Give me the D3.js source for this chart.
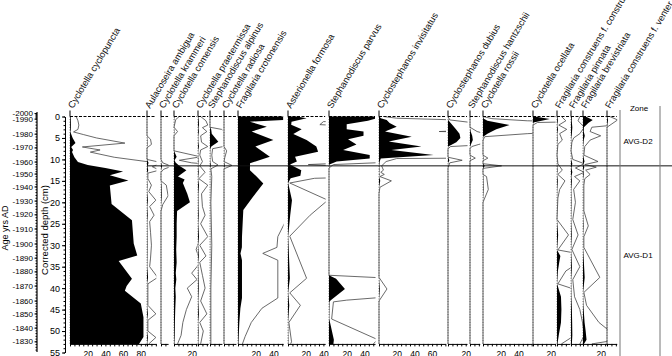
<!DOCTYPE html>
<html lang="en">
<head>
<meta charset="UTF-8">
<title>Diatom stratigraphy</title>
<script src="https://cdnjs.cloudflare.com/ajax/libs/d3/7.8.5/d3.min.js"></script>
<style>
    body { margin: 0; background: #fff; }
    svg { display: block; font-family: "Liberation Sans", Arial, sans-serif; }
</style>
</head>
<body>
<script>

var w = 672, h = 356;

// taxa, in plotting order
var taxa = ["Cyclotella cyclopuncta", "Aulacoseira ambigua", "Cyclotella krammeri", "Cyclotella comensis",
    "Cyclotella praetermissa", "Stephanodiscus alpinus", "Cyclotella radiosa", "Fragilaria crotonensis",
    "Asterionella formosa", "Stephanodiscus parvus", "Cyclostephanos invisitatus", "Cyclostephanos dubius",
    "Stephanodiscus hantzschii", "Cyclotella rossii", "Cyclotella ocellata", "Fragilaria construens f. construens",
    "Fragilaria pinnata", "Fragilaria brevistriata", "Fragilaria construens f. venter"];

// x axis maximum (%) of each panel
var axisMax = [87, 10, 8, 26, 11.5, 13.5, 13.5, 51, 42, 52, 75, 21.5, 11, 55.5, 25, 14.5, 13.5, 27, 11];

// [depth cm, %] per taxon
var cyclopuncta = [[0,0.7],[1,0.9],[2,1],[3,0.9],[3.6,0.4],[4.2,1.5],[5,3],[6.2,6.2],[7.1,1.4],[7.8,3.4],[8.3,2.3],[9.5,5],[10.6,9],[11.3,20],[12,40],[12.8,60],[13.7,45],[14.9,66],[16.1,45],[20.4,47],[24.2,70],[29.6,72],[32.4,76],[33.7,55],[37.8,70],[39.5,64],[40.6,62],[43.6,80],[46.8,83],[51.4,83],[53,78]];
var ambigua = [[0,0],[4.5,0],[5.3,0.4],[6.5,0.5],[7.3,0],[10,0],[10.8,1.7],[11.7,0.6],[12.5,1.4],[13.2,0.1],[14.5,0.1],[16,0.5],[17.5,0.2],[19.5,1],[21,0.3],[23,0.8],[24.5,0.3],[27,0.4],[30,0.5],[33,0.4],[35,0.3],[37.5,1.2],[39,0.1],[41,0.1],[44,0.1],[46,1],[47.5,0.1],[50,0.1],[51.5,1],[53,0.2]];
var krammeri = [[0,0],[10,0],[10.8,0.2],[11.6,1.2],[12.3,0.3],[13,0],[15,0],[16,0.6],[18.5,0.8],[20.5,0.2],[22,0],[53,0]];
var comensis = [[0,0.6],[0.7,0.2],[2.5,0],[3.5,0.4],[4.5,0],[8,0],[9.4,3],[10.2,0.6],[10.8,2],[11.5,6],[12.5,14],[14,4.5],[14.7,12],[15.5,10],[18,15],[20,18],[22,3.5],[25,3],[28,3],[31,2.5],[34,3],[36.5,2],[38,2.6],[40,1.5],[42,2],[45,1.4],[48,1],[51,0.8],[53,0.4]];
var praetermissa = [[0,0.3],[1,0.9],[2,1.1],[2.6,0.5],[3.5,1],[4.5,0.3],[6,0.4],[7,1.1],[7.8,0.3],[9,0.2],[10.5,0.5],[11.5,0.2],[13,0.8],[14.5,0.1],[16,1.1],[18,0.4],[21,0.5],[23,0.8],[25,0.3],[28,1.1],[30,0.2],[32.5,0.9],[34,0.2],[37,0.5],[40,0.8],[43,0.3],[46,1],[48,0.2],[50,0.6],[53,0.3]];
var alpinus = [[0,0],[2.5,0],[3,1.3],[4,2],[5.9,9.4],[7,1.5],[7.5,0.3],[9,0.2],[10.5,0.3],[11.3,0.9],[12.2,0.1],[14,0.2],[20,0.1],[30,0.2],[40,0.1],[53,0.1]];
var radiosa = [[0,0],[7,0],[8,0.3],[9.5,0.1],[10.5,0],[11.4,0.9],[12.2,0],[53,0]];
var crotonensis = [[0,51],[0.8,51],[1.2,13.5],[2.4,32.6],[3.5,15.4],[5.5,40],[7,19.6],[9.4,36],[10.9,13.6],[12.5,13.5],[14,21],[15.6,28.6],[18.7,17],[21.8,6],[28,4.5],[30.5,4.4],[31.9,2.8],[33.5,4.5],[42.3,4.5],[44.7,2.7],[48,1.5],[51.3,0.8],[53,0.5]];
var formosa = [[0,10],[0.4,21],[1.2,4],[1.9,3.6],[3,15.4],[4.1,6],[5.5,21],[7,32],[8.2,34],[9.4,8],[10.5,10],[11.2,2.3],[12.5,15],[13.8,14],[14.4,3],[15.5,0.2],[19.5,4.5],[23,2.5],[27.9,0.2],[37.7,2.1],[41.1,0.2],[44,1.4],[48,0.1],[52.5,0.4],[53,0.3]];
var parvus = [[0,52],[0.5,52],[1,44],[1.8,20],[3,20],[3.5,39],[4.5,39],[5.3,21.5],[6.5,31],[7.8,16],[9,46],[9.8,46],[10.5,8.7],[11.2,0.5],[12,0],[37,0],[37.8,8],[40.2,18],[42.8,2],[43.2,0.5],[47.2,0.3],[52,5.5],[53,5]];
var invisitatus = [[0,0.5],[0.4,2],[0.8,8.7],[1.5,12],[2.4,20],[3.5,6.8],[4.7,37],[5.8,11],[7,48],[7.8,14],[9,61.7],[9.8,2],[10.5,0.8],[11.5,0.3],[12.5,0.5],[13,0.2],[13.5,0.6],[14,0.1],[15,1.4],[16.5,0.1],[18,0],[37.5,0],[40.2,0.9],[43,0],[53,0]];
var dubius = [[0,0],[0.8,0.2],[1.5,3],[3,9],[4,13],[5,14],[6,9.4],[7,0.3],[7.5,0],[9.5,0],[10.2,1.6],[10.8,0.2],[12,0],[53,0]];
var hantzschii = [[0,0],[2.5,0],[3.5,0.8],[4.5,2.5],[5.5,3.2],[6.5,1],[7,0.2],[7.5,0],[9,0],[9.7,0.6],[10.3,0],[53,0]];
var rossii = [[0,0],[0.5,1],[1,5],[2,30],[3,15],[4,5],[4.7,0.2],[5.5,0],[9,0],[9.7,0.55],[10.3,0],[11,0],[11.5,2.1],[12.1,0],[13.5,0],[14,0.4],[17,0.6],[19,0.2],[20,0],[53,0]];
var ocellata = [[0,2],[0.6,19],[1.4,0.5],[2,0],[53,0]];
var construens = [[0,0.5],[1,1],[2,0.2],[3,1.1],[4,0.3],[5.5,0.6],[6.5,0.1],[9,0],[11,0.1],[12.5,0.6],[13.5,0.1],[15,0.9],[17,0.3],[19,0.1],[24,0],[27.6,1.3],[31.1,0.1],[32.5,3.8],[34,2.5],[36,1],[39,0.1],[42,4.5],[45,5],[48,4.5],[51,2],[53,0.5]];
var pinnata = [[0,1],[1,0.8],[2.5,1.5],[4,1],[5,0.3],[6,0.1],[8,0],[10,0.2],[11,1.5],[12,0.5],[13,1.5],[14,0.4],[15,1],[17,0.3],[20,0.5],[24,0.2],[27.6,0.8],[31,0.1],[35,1],[38,0.2],[42,0.4],[45,1],[48,1.3],[51,1.5],[53,1]];
var brevistriata = [[0,3],[0.8,11],[1.5,6],[2.5,1],[3.5,0.8],[4.5,2],[5.5,0.8],[7,0.2],[9,0.1],[10.5,1.7],[11.2,0.2],[11.8,1.5],[12.5,0.3],[13.5,0.8],[14.5,0.2],[16,0.1],[22,0.1],[25.5,0.6],[28,0.1],[30.5,0.1],[37.5,1.9],[41,0.1],[44,0.4],[48,1.8],[50,3],[52,4],[53,1]];
var venter = [[0,0.3],[0.8,1.2],[2.5,0],[53,0]];

var series = [cyclopuncta, ambigua, krammeri, comensis, praetermissa, alpinus, radiosa, crotonensis,
    formosa, parvus, invisitatus, dubius, hantzschii, rossii, ocellata, construens, pinnata, brevistriata, venter];

// age-depth model (age axis)
var ageYears = [2000, 1990, 1980, 1970, 1960, 1950, 1940, 1930, 1920, 1910, 1900, 1890, 1880, 1870, 1860, 1850, 1840, 1830];
var ageDepths = [-0.8, 0.5, 4.0, 7.2, 10.5, 13.3, 16.3, 19.6, 22.8, 26.1, 29.6, 32.9, 36.1, 39.4, 42.9, 45.9, 49.2, 52.4];

// zones
var zoneNames = ["AVG-D2", "AVG-D1"];
var zoneBounds = [0, 11.5, 53];

var exaggeration = 10;
var bottomDepth = 53;

// layout
var panelLeft = [70, 147, 161, 174, 198, 210, 224, 238, 288, 329, 379, 448, 470, 483, 533, 557, 571, 583, 607];
var pxPerPct = 0.885;

var svg = d3.select("body").append("svg")
    .attr("width", w)
    .attr("height", h);

var yScale = d3.scaleLinear().domain([0, 55]).range([116.5, 352.5]);

var ageScale = d3.scaleLinear()
    .domain(ageYears)
    .range(ageDepths.map(function(d) { return yScale(d); }));

var defs = svg.append("defs");

//Panels
taxa.forEach(function(name, i) {
    var left = panelLeft[i];
    var width = axisMax[i] * pxPerPct;
    var xScale = d3.scaleLinear().domain([0, axisMax[i]]).range([left, left + width]);
    var data = series[i];
    var g = svg.append("g");

    defs.append("clipPath").attr("id", "clip" + i)
        .append("rect")
        .attr("x", left - 1)
        .attr("y", 0)
        .attr("width", width + 1.5)
        .attr("height", h);

    //baseline
    g.append("line")
        .attr("x1", left).attr("x2", left)
        .attr("y1", yScale(0)).attr("y2", yScale(bottomDepth))
        .attr("stroke", "#444")
        .attr("stroke-width", 0.8)
        .attr("stroke-dasharray", "1,1.6");

    //exaggerated curve
    g.append("path")
        .datum(data)
        .attr("clip-path", "url(#clip" + i + ")")
        .attr("fill", "none")
        .attr("stroke", "#444")
        .attr("stroke-width", 0.8)
        .attr("d", d3.line()
            .x(function(d) { return xScale(d[1] * exaggeration); })
            .y(function(d) { return yScale(d[0]); }));

    //silhouette
    g.append("path")
        .datum(data)
        .attr("fill", "#000")
        .attr("d", d3.area()
            .x0(left)
            .x1(function(d) { return xScale(d[1]); })
            .y(function(d) { return yScale(d[0]); }));

    //top dashed line and tick
    g.append("line")
        .attr("x1", left).attr("x2", left + width)
        .attr("y1", yScale(0)).attr("y2", yScale(0))
        .attr("stroke", "#000")
        .attr("stroke-width", 1)
        .attr("stroke-dasharray", "3,1.5");
    g.append("line")
        .attr("x1", left).attr("x2", left)
        .attr("y1", yScale(0) - 6).attr("y2", yScale(0))
        .attr("stroke", "#000")
        .attr("stroke-width", 1);

    //bottom axis
    var ax = g.append("g")
        .attr("transform", "translate(0," + yScale(bottomDepth) + ")")
        .call(d3.axisBottom(xScale)
            .tickValues(d3.range(0, axisMax[i] + 0.01, 5))
            .tickSize(2.5)
            .tickSizeOuter(0)
            .tickPadding(5)
            .tickFormat(function(d) { return (d > 0 && d % 20 === 0) ? d : ""; }));
    ax.select(".domain").attr("stroke-width", 1);
    ax.selectAll("text").attr("font-size", "8.5px").attr("font-family", "Liberation Sans, Arial, sans-serif");

    //name
    g.append("text")
        .attr("transform", "translate(" + (left + 3) + ",109) rotate(-59)")
        .attr("font-size", "9.3px")
        .attr("fill", "#111")
        .text(name);
});

//Zone boundary
svg.append("line")
    .attr("x1", 147).attr("x2", w)
    .attr("y1", yScale(zoneBounds[1])).attr("y2", yScale(zoneBounds[1]))
    .attr("stroke", "#111")
    .attr("stroke-width", 1);

//Zone column
svg.append("line").attr("x1", 620).attr("x2", 620).attr("y1", 110).attr("y2", h)
    .attr("stroke", "#777").attr("stroke-width", 1);
svg.append("line").attr("x1", 660).attr("x2", 660).attr("y1", 106).attr("y2", h)
    .attr("stroke", "#777").attr("stroke-width", 1);
svg.append("text").attr("x", 639).attr("y", 111).attr("text-anchor", "middle")
    .attr("font-size", "8px").text("Zone");
zoneNames.forEach(function(z, i) {
    svg.append("text")
        .attr("x", 638)
        .attr("y", yScale((zoneBounds[i] + zoneBounds[i + 1]) / 2) + 3)
        .attr("text-anchor", "middle")
        .attr("font-size", "8px")
        .text(z);
});

//Depth axis
var depthAxis = svg.append("g")
    .attr("transform", "translate(65,0)")
    .call(d3.axisLeft(yScale)
        .tickValues(d3.range(0, 56, 5))
        .tickSize(3)
        .tickSizeOuter(0)
        .tickPadding(2));
depthAxis.selectAll("text").attr("font-size", "9px").attr("font-family", "Liberation Sans, Arial, sans-serif");
svg.append("g")
    .attr("transform", "translate(65,0)")
    .call(d3.axisLeft(yScale).tickValues(d3.range(0, 56, 1)).tickSize(1.5).tickFormat(""))
    .select(".domain").remove();

svg.append("text")
    .attr("transform", "translate(48,230) rotate(-90)")
    .attr("text-anchor", "middle")
    .attr("font-size", "9.5px")
    .text("Corrected depth (cm)");

//Age axis
var ageAxis = svg.append("g")
    .attr("transform", "translate(37,0)")
    .call(d3.axisLeft(ageScale)
        .tickValues(ageYears)
        .tickSize(2.5)
        .tickSizeOuter(0)
        .tickPadding(1.5)
        .tickFormat(function(d) { return "-" + d; }));
ageAxis.select(".domain").remove();
ageAxis.selectAll("text").attr("font-size", "8px").attr("font-family", "Liberation Sans, Arial, sans-serif");
svg.append("g")
    .attr("transform", "translate(37,0)")
    .call(d3.axisLeft(ageScale).tickValues(d3.range(1824, 2001, 2)).tickSize(1.5).tickFormat(""))
    .select(".domain").remove();
svg.append("line")
    .attr("x1", 37).attr("x2", 37)
    .attr("y1", 112).attr("y2", 352)
    .attr("stroke", "#000").attr("stroke-width", 1.2);

svg.append("text")
    .attr("transform", "translate(8,228) rotate(-90)")
    .attr("text-anchor", "middle")
    .attr("font-size", "9px")
    .text("Age yrs AD");

</script>
</body>
</html>
